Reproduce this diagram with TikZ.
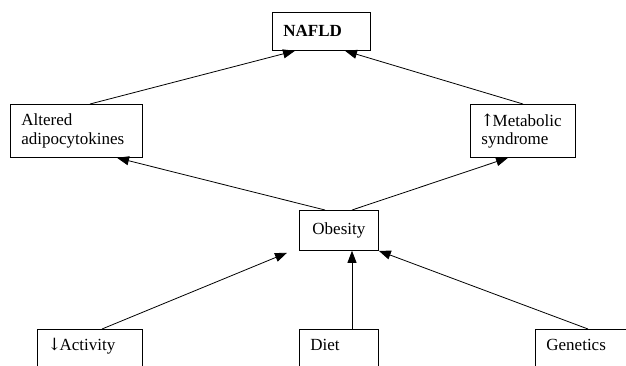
\documentclass[tikz,border=0pt]{standalone}
\usepackage{fontspec}
\setmainfont{Liberation Serif}
\newfontfamily\arrowfont{DejaVu Serif}
\usetikzlibrary{arrows.meta,calc}
\begin{document}
\begin{tikzpicture}[x=1pt,y=-1pt,
  box/.style={draw, line width=0.8pt, anchor=north west, inner xsep=11pt, inner ysep=0pt, align=left, font=\fontsize{17}{18.5}\selectfont},
  low/.style={box, draw=none, text height=12pt, text depth=30pt, inner ysep=9pt},
  edge/.style={line width=0.8pt},
  arr/.style={line width=0.8pt, -{Triangle[length=12pt,width=9pt]}}]
\useasboundingbox (0,0) rectangle (626,365);
\node[box, text width=76pt, minimum height=38pt, font=\fontsize{17}{18.5}\selectfont\bfseries] (nafld) at (272,12) {\raisebox{2pt}{NAFLD}};
\node[box, text width=110pt, minimum height=53pt] (altered) at (10,104) {Altered\\adipocytokines};
\node[box, text width=83pt, minimum height=53pt] (metab) at (470,104) {{\arrowfont\kern-1pt↑\kern-2pt}Metabolic\\syndrome};
\node[box, text width=57pt, minimum height=40pt, align=center] (obesity) at (299,210) {Obesity};
\node[low, text width=83pt, text depth=6pt] (activity) at (37,329) {{\arrowfont\kern-1pt↓\kern-2pt}Activity};
\node[low, text width=57pt, text depth=6pt] (diet) at (299,329) {Diet};
\node[low, text width=60pt, text depth=6pt] (genetics) at (535,329) {Genetics};
\coordinate (gend) at (626,329);
\draw[edge] (activity.south west) -- (activity.north west) -- (activity.north east) -- (activity.south east);
\draw[edge] (diet.south west) -- (diet.north west) -- (diet.north east) -- (diet.south east);
\draw[edge] (genetics.south west) -- (genetics.north west) -- (gend);
\draw[arr] ($(altered.north west)+(80,0)$) -- ($(nafld.south west)+(23,0)$);
\draw[arr] ($(metab.north west)+(53,0)$) -- ($(nafld.south west)+(73,0)$);
\draw[arr] ($(obesity.north west)+(26,0)$) -- ($(altered.south west)+(107,0)$);
\draw[arr] ($(obesity.north west)+(53,0)$) -- ($(metab.south west)+(38,0)$);
\draw[arr] ($(activity.north west)+(65,0)$) -- ($(obesity.south west)+(-12,2)$);
\draw[arr] ($(diet.north west)+(53,0)$) -- ($(obesity.south west)+(53,0)$);
\draw[arr] ($(genetics.north west)+(53,0)$) -- (obesity.south east);
\end{tikzpicture}
\end{document}
